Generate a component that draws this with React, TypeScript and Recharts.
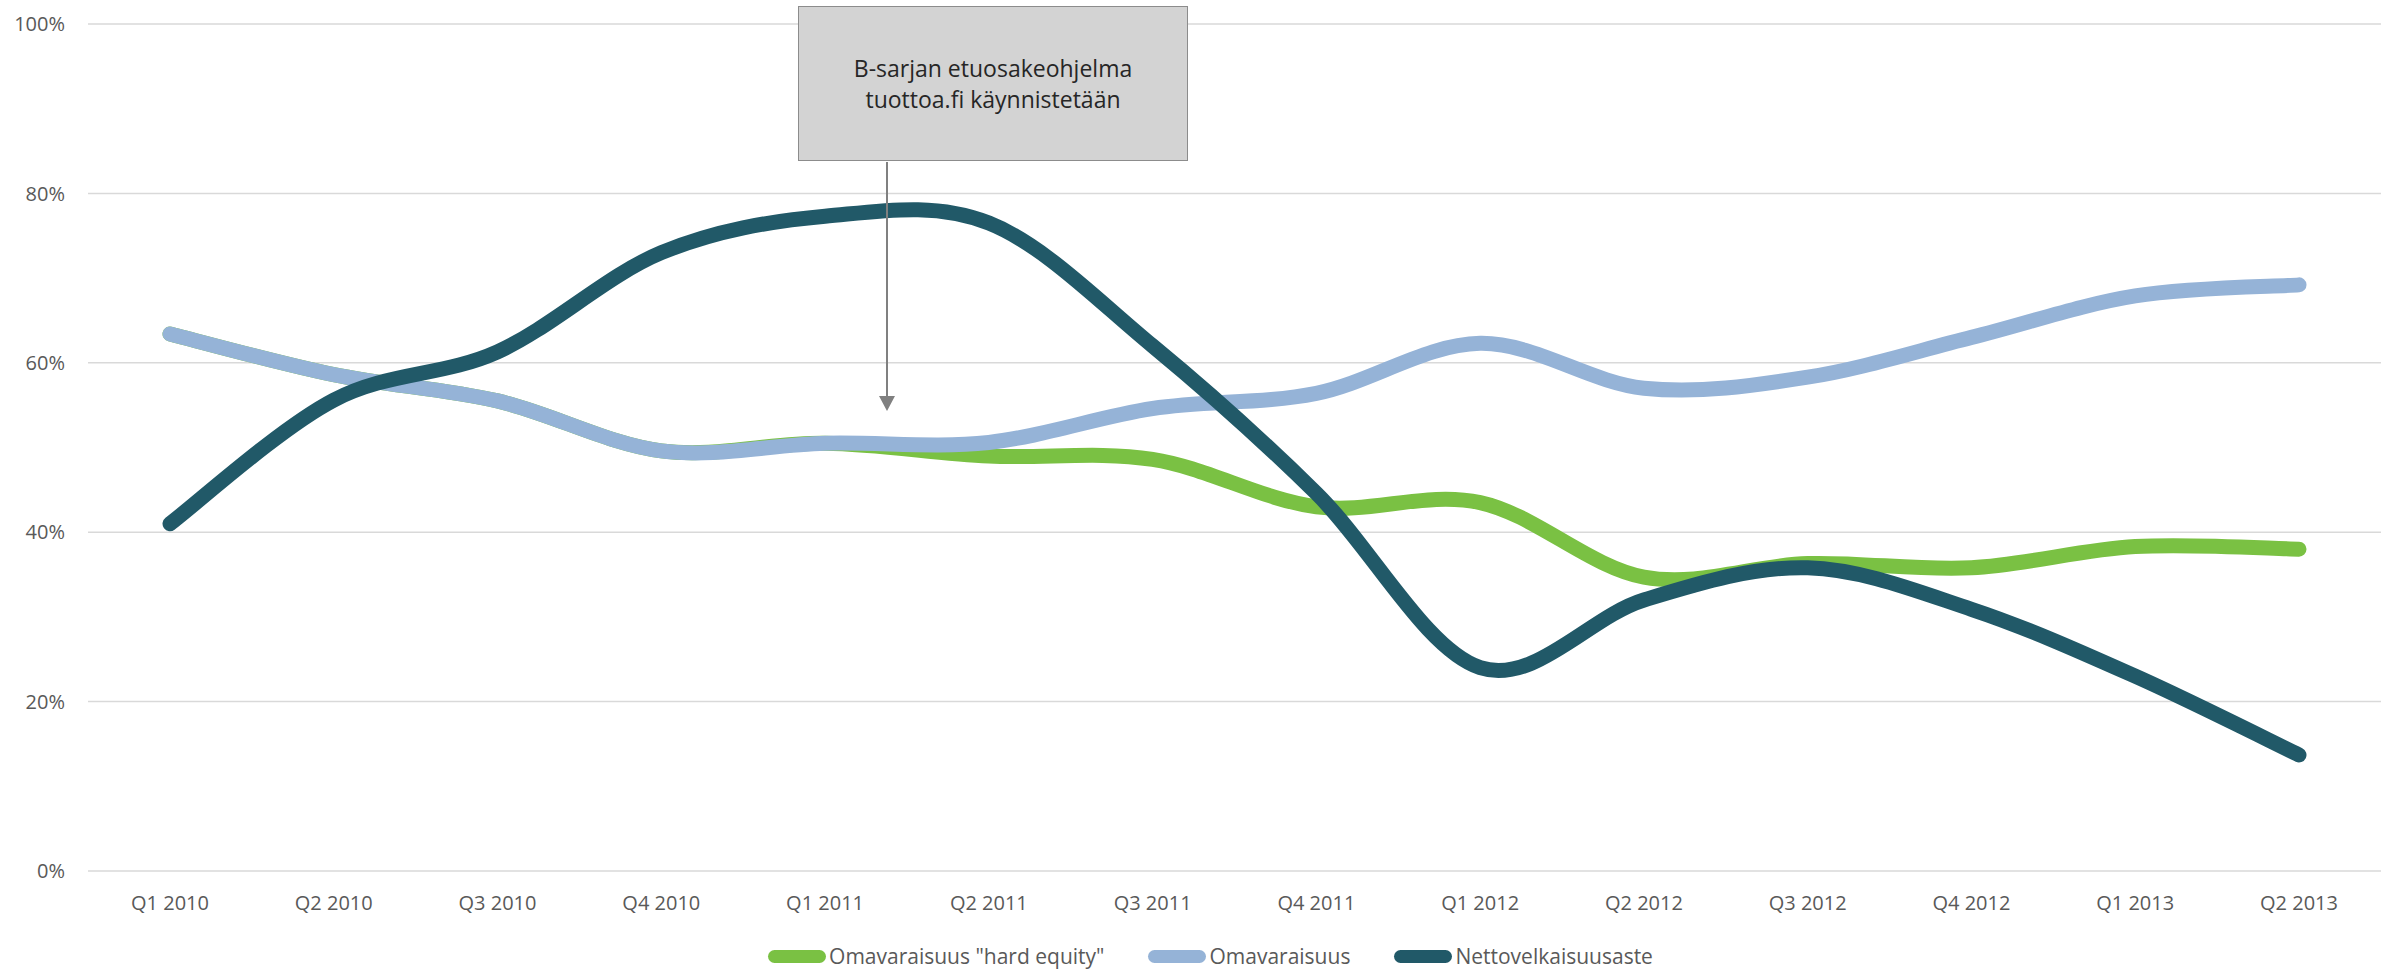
import { CartesianGrid, Legend, Line, LineChart, XAxis, YAxis } from 'recharts'

const quarters = [
  'Q1 2010', 'Q2 2010', 'Q3 2010', 'Q4 2010',
  'Q1 2011', 'Q2 2011', 'Q3 2011', 'Q4 2011',
  'Q1 2012', 'Q2 2012', 'Q3 2012', 'Q4 2012',
  'Q1 2013', 'Q2 2013',
]
const hardEquity = [63.4, 58.6, 55.5, 49.6, 50.5, 49.0, 48.6, 43.0, 43.5, 34.7, 36.3, 35.8, 38.3, 38.0]
const omavaraisuus = [63.4, 58.6, 55.5, 49.6, 50.5, 50.6, 54.6, 56.4, 62.3, 57.0, 58.3, 63.0, 67.9, 69.2]
const netto = [41.0, 55.6, 61.3, 73.0, 77.3, 76.5, 62.0, 44.6, 24.0, 32.0, 35.8, 30.9, 23.0, 13.7]
const yTicks = [0, 20, 40, 60, 80, 100]

const series = [
  { key: 'hard', name: 'Omavaraisuus "hard equity"', color: '#7ac143' },
  { key: 'oma', name: 'Omavaraisuus', color: '#95b3d7' },
  { key: 'netto', name: 'Nettovelkaisuusaste', color: '#215968' },
]

const data = quarters.map((q, i) => ({
  name: q,
  hard: hardEquity[i],
  oma: omavaraisuus[i],
  netto: netto[i],
}))

const font = "'Open Sans', sans-serif"

// excel style smoothing (catmull-rom bezier)
function excelCurve(context: any) {
  let pts: number[][] = []
  return {
    areaStart() {},
    areaEnd() {},
    lineStart() {
      pts = []
    },
    lineEnd() {
      if (!pts.length) return
      context.moveTo(pts[0][0], pts[0][1])
      for (let i = 0; i < pts.length - 1; i++) {
        const p0 = pts[i - 1] || pts[i]
        const p1 = pts[i]
        const p2 = pts[i + 1]
        const p3 = pts[i + 2] || p2
        context.bezierCurveTo(
          p1[0] + (p2[0] - p0[0]) / 6,
          p1[1] + (p2[1] - p0[1]) / 6,
          p2[0] - (p3[0] - p1[0]) / 6,
          p2[1] - (p3[1] - p1[1]) / 6,
          p2[0],
          p2[1]
        )
      }
    },
    point(x: number, y: number) {
      pts.push([+x, +y])
    },
  }
}

function LegendContent() {
  return (
    <div
      style={{
        display: 'flex',
        justifyContent: 'center',
        gap: 44,
        paddingLeft: 40,
        fontFamily: font,
        fontSize: 21,
        color: '#595959',
      }}
    >
      {series.map((s) => (
        <div key={s.key} style={{ display: 'flex', alignItems: 'center' }}>
          <span style={{ display: 'inline-block', width: 58, height: 13, borderRadius: 7, background: s.color, marginRight: 3 }} />
          <span>{s.name}</span>
        </div>
      ))}
    </div>
  )
}

export default function App() {
  return (
    <div style={{ position: 'absolute', left: 0, top: 0, width: 2397, height: 970, background: '#fff' }}>
      <LineChart width={2397} height={970} data={data} margin={{ top: 24, right: 16, left: 0, bottom: 0 }}>
        <CartesianGrid vertical={false} stroke="#d9d9d9" strokeWidth={1.5} />
        <XAxis
          dataKey="name"
          axisLine={false}
          tickLine={false}
          tickSize={0}
          tickMargin={25}
          height={71}
          padding={{ left: 82, right: 82 }}
          tick={{ fill: '#595959', fontSize: 20, fontFamily: font }}
          interval={0}
        />
        <YAxis
          domain={[0, 100]}
          ticks={yTicks}
          width={88}
          axisLine={false}
          tickLine={false}
          tickSize={0}
          tickMargin={23}
          tickFormatter={(v) => `${v}%`}
          tick={{ fill: '#595959', fontSize: 20, fontFamily: font }}
        />
        <Legend verticalAlign="bottom" height={28} content={<LegendContent />} />
        {series.map((s) => (
          <Line
            key={s.key}
            dataKey={s.key}
            name={s.name}
            type={excelCurve as any}
            stroke={s.color}
            strokeWidth={15}
            strokeLinecap="round"
            strokeLinejoin="round"
            dot={false}
            activeDot={false}
            isAnimationActive={false}
          />
        ))}
      </LineChart>
      <div
        style={{
          position: 'absolute',
          left: 798,
          top: 6,
          width: 388,
          height: 153,
          background: '#d3d3d3',
          border: '1.5px solid #8c8c8c',
          display: 'flex',
          alignItems: 'center',
          justifyContent: 'center',
          textAlign: 'center',
          fontFamily: font,
          fontSize: 23,
          lineHeight: '31px',
          color: '#262626',
        }}
      >
        B-sarjan etuosakeohjelma
        <br />
        tuottoa.fi käynnistetään
      </div>
      <svg style={{ position: 'absolute', left: 0, top: 0, pointerEvents: 'none' }} width={2397} height={970}>
        <line x1={887} y1={162} x2={887} y2={398} stroke="#808080" strokeWidth={2} />
        <polygon points="879,396 895,396 887,411" fill="#808080" />
      </svg>
    </div>
  )
}
